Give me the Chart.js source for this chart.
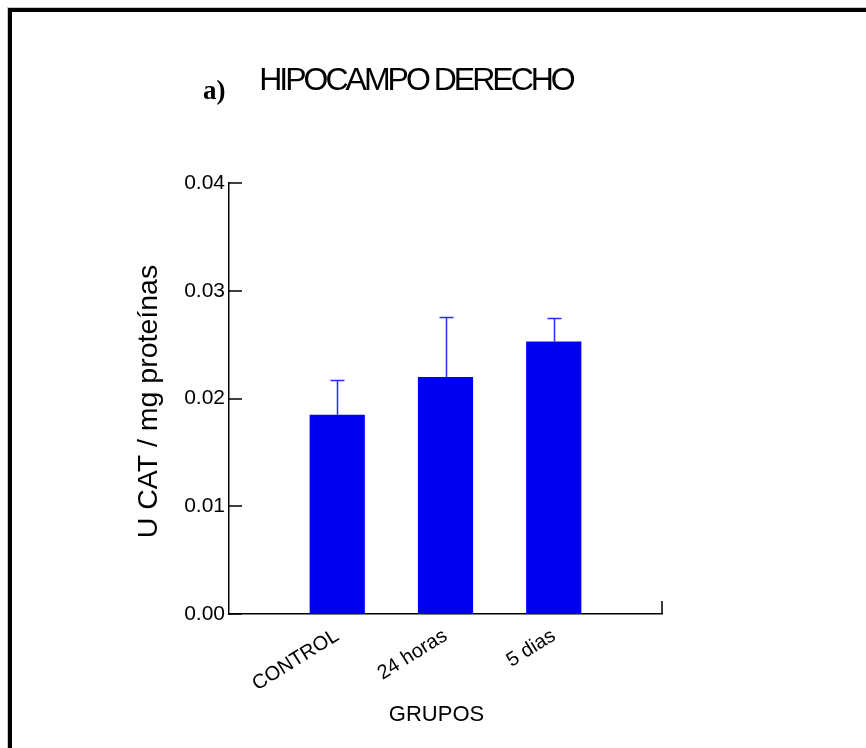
<!DOCTYPE html>
<html><head><meta charset="utf-8">
<script src="https://cdn.jsdelivr.net/npm/chart.js@4"></script>
<style>
html,body{margin:0;padding:0;background:#fff;overflow:hidden;width:866px;height:748px;}
#frame{position:absolute;left:8px;top:8px;width:900px;height:800px;border-left:4px solid #000;border-top:4px solid #000;box-shadow:-1px -1px 0 #c8c8c8;}
#c{position:absolute;left:0;top:0;}
</style></head><body>
<div id="frame"></div>
<canvas id="c" width="866" height="748"></canvas>
<script>
const categories = ['CONTROL', '24 horas', '5 dias'];
const positions = [1, 2, 3];
const means = [0.0185, 0.0220, 0.0253];
const errors = [0.0032, 0.0056, 0.0022];
const yTicks = [0, 0.01, 0.02, 0.03, 0.04];
const titleText = 'HIPOCAMPO DERECHO';
const panelLabel = 'a)';
const yTitle = 'U CAT / mg proteínas';
const xTitle = 'GRUPOS';

const FONT = 'Arial, "Liberation Sans", sans-serif';
Chart.defaults.color = '#000';
Chart.defaults.font.family = FONT;

function shiftDraw(obj, method, dx, dy, spacing) {
  if (!obj || obj['_w_' + method]) return;
  const orig = obj[method];
  obj[method] = function () {
    const c = this.ctx;
    c.save();
    if (spacing) c.letterSpacing = spacing;
    c.translate(dx, dy);
    orig.apply(this, arguments);
    c.restore();
  };
  obj['_w_' + method] = true;
}

const titleWrap = {
  id: 'titleWrap',
  beforeDraw(chart) {
    shiftDraw(chart.titleBlock, 'draw', 19, 0, '-3px');
    shiftDraw(chart.scales.x, 'drawTitle', -9, 0);
    shiftDraw(chart.scales.y, 'drawTitle', 0, 3);
  }
};

const errorBars = {
  id: 'errorBars',
  afterDatasetsDraw(chart) {
    const { ctx, scales: { x, y } } = chart;
    ctx.save();
    ctx.strokeStyle = '#2a2aff';
    ctx.lineWidth = 1.5;
    positions.forEach((p, i) => {
      const px = Math.round(x.getPixelForValue(p)) + 0.5;
      const y0 = y.getPixelForValue(means[i]);
      const y1 = Math.round(y.getPixelForValue(means[i] + errors[i])) + 0.5;
      ctx.beginPath();
      ctx.moveTo(px, y0); ctx.lineTo(px, y1);
      ctx.moveTo(px - 7, y1); ctx.lineTo(px + 7, y1);
      ctx.stroke();
    });
    ctx.restore();
  }
};

const innerTicks = {
  id: 'innerTicks',
  afterDraw(chart) {
    const { ctx, chartArea, scales: { x, y } } = chart;
    ctx.save();
    ctx.strokeStyle = '#000';
    ctx.lineWidth = 1.5;
    ctx.beginPath();
    y.ticks.forEach(t => {
      const py = Math.round(y.getPixelForValue(t.value));
      ctx.moveTo(chartArea.left, py); ctx.lineTo(chartArea.left + 13, py);
    });
    const px = Math.round(x.getPixelForValue(x.max));
    ctx.moveTo(px, chartArea.bottom); ctx.lineTo(px, chartArea.bottom - 13);
    ctx.stroke();
    ctx.font = 'bold 27px "Liberation Serif", "Times New Roman", serif';
    ctx.fillStyle = '#000';
    ctx.textAlign = 'left';
    ctx.textBaseline = 'alphabetic';
    ctx.fillText(panelLabel, 203, 99);
    ctx.restore();
  }
};

new Chart(document.getElementById('c'), {
  type: 'bar',
  data: {
    datasets: [{
      data: positions.map((p, i) => ({ x: p, y: means[i] })),
      backgroundColor: '#0000f0',
      borderWidth: 0,
      barPercentage: 0.51,
      categoryPercentage: 1
    }]
  },
  options: {
    responsive: false,
    animation: false,
    devicePixelRatio: 1,
    layout: { padding: { left: 132, right: 204, top: 0, bottom: 0 } },
    plugins: {
      legend: { display: false },
      tooltip: { enabled: false },
      title: {
        display: true,
        text: titleText,
        color: '#000',
        font: { size: 32, family: FONT, weight: 'normal', lineHeight: 1.2 },
        padding: { top: 62, bottom: 82.8 }
      }
    },
    scales: {
      x: {
        type: 'linear',
        min: 0, max: 4,
        offset: false,
        grid: { display: false, drawTicks: false },
        border: { display: true, color: '#000', width: 1.5 },
        afterBuildTicks: s => { s.ticks = positions.map(v => ({ value: v })); },
        afterFit: s => { s.height = 134; },
        ticks: {
          autoSkip: false,
          minRotation: 32, maxRotation: 32,
          padding: 10,
          font: { size: 20 },
          color: '#000',
          callback: v => categories[positions.indexOf(v)]
        },
        title: { display: true, text: xTitle, font: { size: 22, lineHeight: 1.2 }, color: '#000', padding: { top: 0, bottom: 20 } }
      },
      y: {
        min: 0, max: 0.04,
        grid: { display: false, drawTicks: false },
        border: { display: true, color: '#000', width: 1.5 },
        afterBuildTicks: s => { s.ticks = yTicks.map(v => ({ value: v })); },
        afterFit: s => { s.width = 97; },
        ticks: {
          padding: 4,
          font: { size: 21 },
          color: '#000',
          callback: v => v.toFixed(2)
        },
        title: { display: true, text: yTitle, font: { size: 28.5, lineHeight: 1.2 }, color: '#000', padding: { top: 0, bottom: 0 } }
      }
    }
  },
  plugins: [titleWrap, errorBars, innerTicks]
});
</script>
</body></html>
